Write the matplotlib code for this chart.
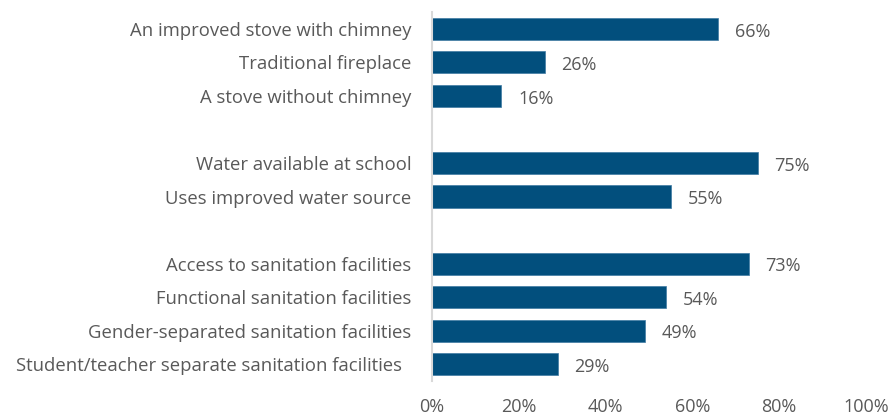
import matplotlib.pyplot as plt

# Survey results, grouped by topic (None marks a blank gap row)
labels = ["An improved stove with chimney", "Traditional fireplace", "A stove without chimney",
          None,
          "Water available at school", "Uses improved water source",
          None,
          "Access to sanitation facilities", "Functional sanitation facilities",
          "Gender-separated sanitation facilities",
          "Student/teacher separate sanitation facilities  "]
values = [66, 26, 16, None, 75, 55, None, 73, 54, 49, 29]
x_ticks = [0, 20, 40, 60, 80, 100]

bar_color = "#024F7D"
text_color = "#595959"

plt.rcParams['font.family'] = ['Open Sans', 'DejaVu Sans']

fig = plt.figure(figsize=(8.91, 4.17), dpi=100)
ax = fig.add_axes([432 / 891, 1 - 381 / 417, 434 / 891, 369 / 417])

rows = [i for i, v in enumerate(values) if v is not None]
vals = [values[i] for i in rows]
names = [labels[i] for i in rows]

ax.barh(rows, vals, height=0.66, color=bar_color, edgecolor="#3F7AA3", linewidth=0.5)

for r, v in zip(rows, vals):
    ax.annotate(str(v) + "%", (v, r), xytext=(12, -2), textcoords="offset points",
                ha="left", va="center", fontsize=13, color=text_color)

ax.set_xlim(0, 100)
ax.set_ylim(len(values) - 0.5, -0.5)
ax.set_yticks(rows)
ax.set_yticklabels(names, fontsize=13.3)
ax.set_xticks(x_ticks)
ax.set_xticklabels([str(t) + "%" for t in x_ticks])
ax.tick_params(axis="x", labelsize=13)
ax.tick_params(axis="both", length=0, colors=text_color)
ax.tick_params(axis="y", pad=15)
ax.tick_params(axis="x", pad=12)

for side in ["top", "right", "bottom"]:
    ax.spines[side].set_visible(False)
ax.spines["left"].set_color("#D9D9D9")
ax.spines["left"].set_linewidth(1.5)

fig.savefig("out.png", dpi=100)
